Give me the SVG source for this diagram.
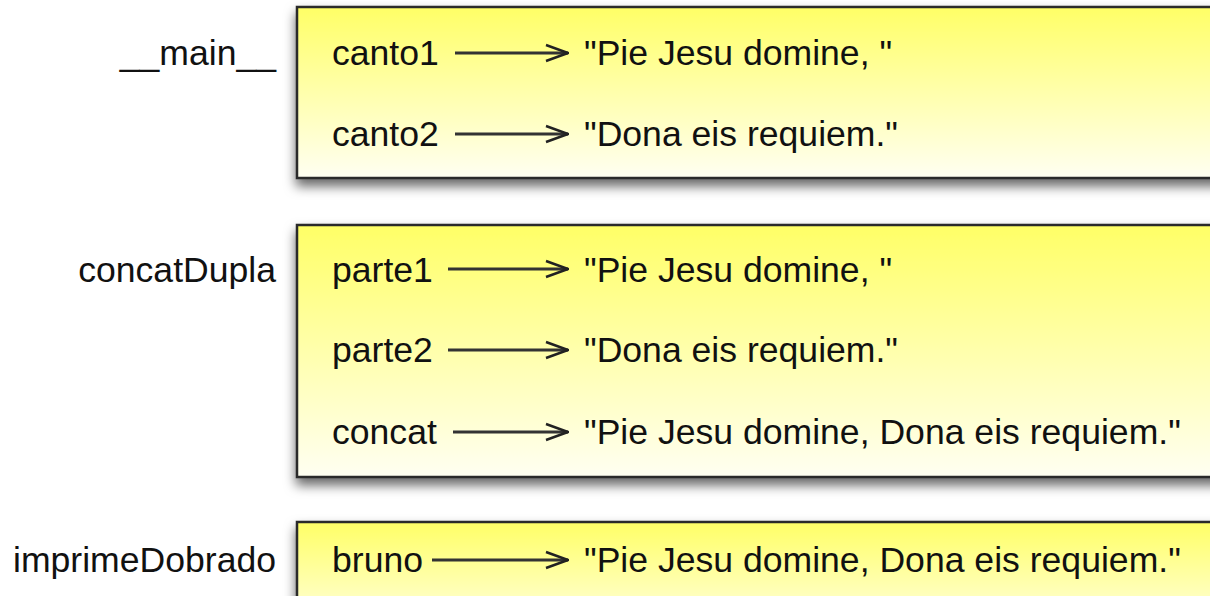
<svg xmlns="http://www.w3.org/2000/svg" width="1210" height="596" viewBox="0 0 1210 596">
<style>
text{font-family:"Liberation Sans",Arial,Helvetica,sans-serif;font-size:35.6px;fill:#111}
.lbl{text-anchor:end}
.frame{fill:url(#yel);stroke:#2a2a2a;stroke-width:2.5;filter:url(#sh)}
.ar{stroke:#333;stroke-width:2.8;fill:none}
</style>
<defs>
<linearGradient id="yel" x1="0" y1="0" x2="0" y2="1">
<stop offset="0" stop-color="#ffff66"/>
<stop offset="1" stop-color="#fffff2"/>
</linearGradient>
<filter id="sh" x="-5%" y="-10%" width="110%" height="130%">
<feDropShadow dx="0" dy="7" stdDeviation="6" flood-color="#000" flood-opacity="0.6"/>
</filter>
<marker id="ah" viewBox="0 0 24 20" refX="23" refY="10" markerWidth="24" markerHeight="20" markerUnits="userSpaceOnUse" orient="auto">
<path d="M1,2 L23,10 L1,18" fill="none" stroke="#222" stroke-width="2.5"/>
</marker>
</defs>
<g id="frame-main">
<rect class="frame" x="297" y="7" width="960" height="171"/>
<text class="lbl" x="276" y="65">__main__</text>
</g>
<g id="frame-concatDupla">
<rect class="frame" x="297" y="225" width="960" height="252"/>
<text class="lbl" x="276" y="282">concatDupla</text>
</g>
<g id="frame-imprimeDobrado">
<rect class="frame" x="297" y="522" width="960" height="120"/>
<text class="lbl" x="276" y="572">imprimeDobrado</text>
</g>
<g id="var-canto1"><text x="332" y="65">canto1</text></g>
<g id="val-canto1"><text x="584" y="65">"Pie Jesu domine, "</text></g>
<g id="var-canto2"><text x="332" y="146">canto2</text></g>
<g id="val-canto2"><text x="584" y="146">"Dona eis requiem."</text></g>
<g id="var-parte1"><text x="332" y="282">parte1</text></g>
<g id="val-parte1"><text x="584" y="282">"Pie Jesu domine, "</text></g>
<g id="var-parte2"><text x="332" y="362">parte2</text></g>
<g id="val-parte2"><text x="584" y="362">"Dona eis requiem."</text></g>
<g id="var-concat"><text x="332" y="444">concat</text></g>
<g id="val-concat"><text x="584" y="444">"Pie Jesu domine, Dona eis requiem."</text></g>
<g id="var-bruno"><text x="332" y="572">bruno</text></g>
<g id="val-bruno"><text x="584" y="572">"Pie Jesu domine, Dona eis requiem."</text></g>
<g id="connectors">
<line class="ar" x1="455" y1="53" x2="568" y2="53" marker-end="url(#ah)"/>
<line class="ar" x1="455" y1="134" x2="568" y2="134" marker-end="url(#ah)"/>
<line class="ar" x1="448" y1="269" x2="568" y2="269" marker-end="url(#ah)"/>
<line class="ar" x1="448" y1="350" x2="568" y2="350" marker-end="url(#ah)"/>
<line class="ar" x1="453" y1="432" x2="568" y2="432" marker-end="url(#ah)"/>
<line class="ar" x1="432" y1="560" x2="568" y2="560" marker-end="url(#ah)"/>
</g>
</svg>
